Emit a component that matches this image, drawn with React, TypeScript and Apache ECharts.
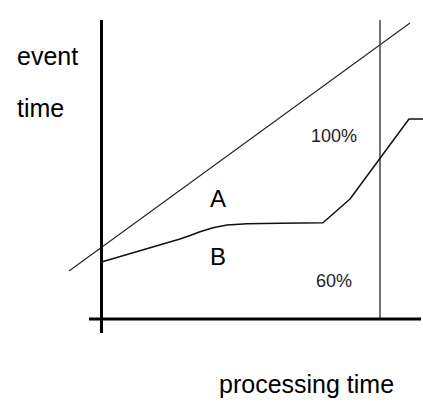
import React, { useEffect, useRef } from "react";
import * as echarts from "echarts";

// Coordinates in diagram units (1 unit = processing/event time step)
const yAxisLine: [number, number][] = [[0, 29.9], [0, -1.4]];
const xAxisLine: [number, number][] = [[-1.25, 0], [31.95, 0]];
const idealLine: [number, number][] = [[-3.25, 4.8], [30.85, 29.6]];
const nowLine: [number, number][] = [[27.85, 0], [27.85, 29.9]];
const watermark: [number, number][] = [
  [0, 5.7],
  [7.85, 8.0],
  [8.85, 8.35],
  [9.85, 8.73],
  [11.15, 9.13],
  [12.55, 9.4],
  [14.55, 9.53],
  [17.85, 9.57],
  [22.15, 9.63],
  [24.85, 12.0],
  [30.75, 20.0],
  [32.15, 20.0],
];

const FONT = "'Liberation Sans', Arial, Helvetica, sans-serif";

export default function App() {
  const ref = useRef<HTMLDivElement>(null);
  useEffect(() => {
    if (!ref.current) return;
    const chart = echarts.init(ref.current, undefined, { renderer: "svg" });
    const lineSeries = (data: [number, number][], width: number, color: string) => ({
      type: "line",
      data,
      symbol: "none",
      silent: true,
      clip: false,
      lineStyle: { width, color },
    });
    chart.setOption({
      animation: false,
      backgroundColor: "#ffffff",
      grid: { left: 0, right: 0, top: 0, bottom: 0 },
      xAxis: { type: "value", min: -10.15, max: 32.15, show: false },
      yAxis: { type: "value", min: -8.5, max: 31.9, show: false },
      series: [
        lineSeries(idealLine, 1.1, "#222"),
        lineSeries(nowLine, 1.5, "#444"),
        lineSeries(watermark, 1.5, "#111"),
        lineSeries(yAxisLine, 3, "#000"),
        lineSeries(xAxisLine, 3, "#000"),
      ],
      graphic: [
        { type: "text", left: 17, top: 65 - 8.7 - 12.5, style: { text: "event", font: `25px ${FONT}`, fill: "#000" } },
        { type: "text", left: 17, top: 117 - 8.7 - 12.5, style: { text: "time", font: `25px ${FONT}`, fill: "#000" } },
        { type: "text", left: 311, top: 142.5 - 6.2 - 9, style: { text: "100%", font: `18px ${FONT}`, fill: "#222" } },
        { type: "text", left: 210, top: 207 - 8.3 - 12, style: { text: "A", font: `24px ${FONT}`, fill: "#000" } },
        { type: "text", left: 210, top: 265 - 8.3 - 12, style: { text: "B", font: `24px ${FONT}`, fill: "#000" } },
        { type: "text", left: 316, top: 287 - 6.2 - 9, style: { text: "60%", font: `18px ${FONT}`, fill: "#222" } },
        { type: "text", left: 219, top: 393 - 8.7 - 12.5, style: { text: "processing time", font: `25px ${FONT}`, fill: "#000" } },
      ],
    });
    return () => chart.dispose();
  }, []);
  return (
    <div
      ref={ref}
      style={{ position: "fixed", left: 0, top: 0, width: 423, height: 404, background: "#fff" }}
    />
  );
}
